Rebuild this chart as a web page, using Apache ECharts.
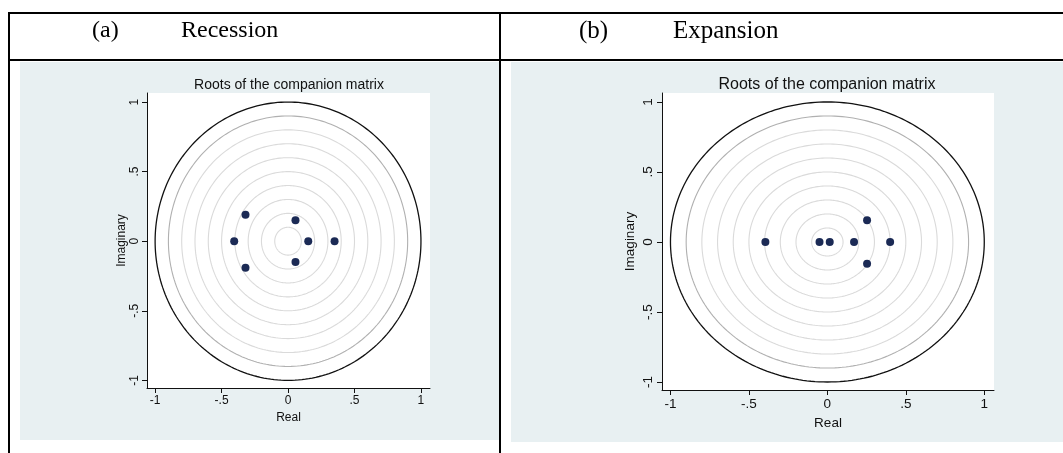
<!DOCTYPE html>
<html>
<head>
<meta charset="utf-8">
<script src="https://cdn.jsdelivr.net/npm/echarts@6/dist/echarts.min.js"></script>
<style>
  html, body { margin: 0; padding: 0; background: #fff; }
  #chart { width: 1063px; height: 453px; }
</style>
</head>
<body>
<div id="chart"></div>
<script>
// moduli of the reference rings (unit circle + grid rings)
var ringRadii = [0.1, 0.2, 0.3, 0.4, 0.5, 0.6, 0.7, 0.8, 0.9, 1];
var tickValues = [-1, -0.5, 0, 0.5, 1];

// (a) recession: roots of the companion matrix
var recessionRe = [-0.32, -0.32, -0.405, 0.056, 0.056, 0.152, 0.35];
var recessionIm = [0.19, -0.19, 0, 0.15, -0.15, 0, 0];

// (b) expansion
var expansionRe = [-0.395, -0.05, 0.015, 0.17, 0.40, 0.253, 0.253];
var expansionIm = [0, 0, 0, 0, 0, 0.155, -0.155];

var sans = 'Liberation Sans, Arial, sans-serif';
var serif = 'Liberation Serif, Times New Roman, serif';
var bgGray = '#e8f0f2';
var dotColor = '#1b2a55';

function stataNum(v) {
    return v === 0 ? '0' : String(v).replace('0.', '.');
}

function ringItem(params, api) {
    var r = api.value(2);
    var pts = [];
    for (var i = 0; i <= 240; i++) {
        var t = i / 240 * 2 * Math.PI;
        pts.push(api.coord([r * Math.cos(t), r * Math.sin(t)]));
    }
    var stroke = '#dadada', lw = 1.1;
    if (r === 1) { stroke = '#111'; lw = 1.3; }
    else if (r === 0.9) { stroke = '#b0b0b0'; lw = 1.1; }
    return {
        type: 'polyline',
        shape: { points: pts },
        style: { stroke: stroke, lineWidth: lw, fill: 'none' },
        silent: true
    };
}

function xAx(idx, min, max, fs, gap) {
    return {
        type: 'value', gridIndex: idx, min: min, max: max,
        name: 'Real', nameLocation: 'middle', nameGap: gap,
        nameTextStyle: { fontFamily: sans, fontSize: fs, color: '#111' },
        axisLine: { show: true, onZero: false, lineStyle: { color: '#111', width: 1 } },
        axisTick: { show: true, length: 5, customValues: tickValues, lineStyle: { color: '#111' } },
        axisLabel: { customValues: tickValues, formatter: stataNum, fontFamily: sans, fontSize: fs, color: '#111', margin: 7 },
        splitLine: { show: false }
    };
}

function yAx(idx, min, max, fs, gap, lm) {
    return {
        type: 'value', gridIndex: idx, min: min, max: max,
        name: 'Imaginary', nameLocation: 'middle', nameGap: gap, nameRotate: 90,
        nameTextStyle: { fontFamily: sans, fontSize: fs, color: '#111' },
        axisLine: { show: true, onZero: false, lineStyle: { color: '#111', width: 1 } },
        axisTick: { show: true, length: 5, customValues: tickValues, lineStyle: { color: '#111' } },
        axisLabel: { customValues: tickValues, formatter: stataNum, rotate: 90, fontFamily: sans, fontSize: fs, color: '#111', margin: lm },
        splitLine: { show: false }
    };
}

function pairs(re, im) {
    return re.map(function (x, i) { return [x, im[i]]; });
}

var ringData = ringRadii.map(function (r) { return [0, 0, r]; });

var option = {
    animation: false,
    backgroundColor: '#fff',
    graphic: [
        { type: 'rect', shape: { x: 20, y: 62, width: 479, height: 378 }, style: { fill: bgGray }, z: -10 },
        { type: 'rect', shape: { x: 511, y: 62, width: 552, height: 380 }, style: { fill: bgGray }, z: -10 },
        { type: 'rect', shape: { x: 8, y: 12, width: 1055, height: 2 }, style: { fill: '#000' } },
        { type: 'rect', shape: { x: 8, y: 59, width: 1055, height: 2 }, style: { fill: '#000' } },
        { type: 'rect', shape: { x: 8, y: 12, width: 2, height: 441 }, style: { fill: '#000' } },
        { type: 'rect', shape: { x: 499, y: 12, width: 2, height: 441 }, style: { fill: '#000' } },
        { type: 'text', x: 92, y: 31, style: { text: '(a)', font: '24px ' + serif, fill: '#000', verticalAlign: 'middle' } },
        { type: 'text', x: 181, y: 31, style: { text: 'Recession', font: '24px ' + serif, fill: '#000', verticalAlign: 'middle' } },
        { type: 'text', x: 579, y: 31, style: { text: '(b)', font: '25px ' + serif, fill: '#000', verticalAlign: 'middle' } },
        { type: 'text', x: 673, y: 31, style: { text: 'Expansion', font: '25px ' + serif, fill: '#000', verticalAlign: 'middle' } },
        { type: 'text', x: 289, y: 85, style: { text: 'Roots of the companion matrix', font: '14px ' + sans, fill: '#111', align: 'center', verticalAlign: 'middle' } },
        { type: 'text', x: 827, y: 85, style: { text: 'Roots of the companion matrix', font: '16px ' + sans, fill: '#111', align: 'center', verticalAlign: 'middle' } }
    ],
    grid: [
        { left: 147, top: 93, width: 283, height: 295, show: true, backgroundColor: '#fff', borderWidth: 0 },
        { left: 662, top: 93, width: 332, height: 297, show: true, backgroundColor: '#fff', borderWidth: 0 }
    ],
    xAxis: [
        xAx(0, -1.061, 1.068, 12, 22),
        xAx(1, -1.054, 1.062, 13.5, 23)
    ],
    yAxis: [
        yAx(0, -1.055, 1.065, 12, 9, 6),
        yAx(1, -1.057, 1.064, 13.5, 25, 7)
    ],
    series: [
        { type: 'custom', xAxisIndex: 0, yAxisIndex: 0, renderItem: ringItem, data: ringData, encode: { x: 0, y: 1 }, silent: true, z: 1 },
        { type: 'custom', xAxisIndex: 1, yAxisIndex: 1, renderItem: ringItem, data: ringData, encode: { x: 0, y: 1 }, silent: true, z: 1 },
        { type: 'scatter', xAxisIndex: 0, yAxisIndex: 0, data: pairs(recessionRe, recessionIm), symbolSize: 8, itemStyle: { color: dotColor, opacity: 1 }, z: 3 },
        { type: 'scatter', xAxisIndex: 1, yAxisIndex: 1, data: pairs(expansionRe, expansionIm), symbolSize: 8, itemStyle: { color: dotColor, opacity: 1 }, z: 3 }
    ]
};

var myChart = echarts.init(document.getElementById('chart'), null, { renderer: 'canvas' });
myChart.setOption(option);
</script>
</body>
</html>
